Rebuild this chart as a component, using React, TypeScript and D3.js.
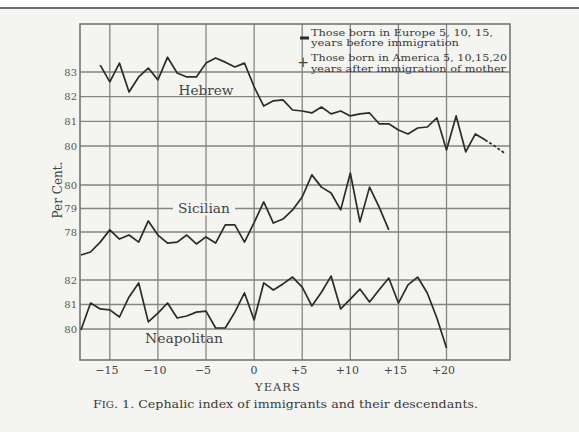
import React from "react";
import * as d3 from "d3";

// Years from immigration of the mother (negative = born in Europe before)
const hebrewYears = [
  -16, -15, -14, -13, -12, -11, -10, -9, -8, -7, -6, -5, -4, -3, -2, -1, 0, 1,
  2, 3, 4, 5, 6, 7, 8, 9, 10, 11, 12, 13, 14, 15, 16, 17, 18, 19, 20, 21, 22,
  23, 24, 25, 26,
];
const hebrewValues = [
  83.28, 82.6, 83.36, 82.19, 82.8, 83.16, 82.68, 83.6, 82.96, 82.8, 82.8,
  83.36, 83.57, 83.4, 83.2, 83.36, 82.4, 81.62, 81.83, 81.87, 81.46, 81.42,
  81.34, 81.58, 81.3, 81.42, 81.22, 81.3, 81.34, 80.9, 80.9, 80.65, 80.49,
  80.73, 80.77, 81.14, 79.84, 81.22, 79.76, 80.49, 80.25, 80.0, 79.72,
];
// last stretch of the Hebrew curve is printed dotted
const hebrewDottedFrom = 24;

const sicilianYears = [
  -18, -17, -16, -15, -14, -13, -12, -11, -10, -9, -8, -7, -6, -5, -4, -3, -2,
  -1, 0, 1, 2, 3, 4, 5, 6, 7, 8, 9, 10, 11, 12, 13, 14,
];
const sicilianValues = [
  77.02, 77.15, 77.57, 78.09, 77.7, 77.87, 77.57, 78.47, 77.87, 77.53, 77.57,
  77.87, 77.49, 77.79, 77.53, 78.3, 78.3, 77.57, 78.4, 79.28, 78.38, 78.55,
  78.94, 79.49, 80.43, 79.91, 79.66, 78.94, 80.51, 78.43, 79.91, 79.06, 78.09,
];

const neapolitanYears = [
  -18, -17, -16, -15, -14, -13, -12, -11, -10, -9, -8, -7, -6, -5, -4, -3, -2,
  -1, 0, 1, 2, 3, 4, 5, 6, 7, 8, 9, 10, 11, 12, 13, 14, 15, 16, 17, 18, 19, 20,
];
const neapolitanValues = [
  79.96, 81.06, 80.82, 80.78, 80.49, 81.31, 81.88, 80.29, 80.65, 81.06, 80.45,
  80.53, 80.69, 80.73, 80.04, 80.04, 80.69, 81.47, 80.37, 81.88, 81.59, 81.84,
  82.12, 81.71, 80.94, 81.5, 82.16, 80.82, 81.22, 81.63, 81.1, 81.6, 82.08,
  81.06, 81.8, 82.12, 81.47, 80.45, 79.22,
];

const xTicks = [-15, -10, -5, 0, 5, 10, 15, 20];
const xTickLabels = ["\u221215", "\u221210", "\u22125", "0", "+5", "+10", "+15", "+20"];
const hebrewTicks = [83, 82, 81, 80];
const sicilianTicks = [80, 79, 78];
const neapolitanTicks = [82, 81, 80];

const legendLines = [
  "Those born in Europe 5, 10, 15,",
  "years before immigration",
  "Those born in America 5, 10,15,20",
  "years after immigration of mother",
];

const W = 579;
const H = 432;
const bg = "#f4f4f1";
const ink = "#2b2b2b";
const gridColor = "#858585";
const serif = "'DejaVu Serif', 'Liberation Serif', serif";

const left = 80;
const right = 510;
const top = 24;
const bottom = 360;

const x = d3.scaleLinear().domain([-18.1, 26.6]).range([left, right]);

// each race gets its own vertical scale, stacked in the one frame
const yHeb = d3.scaleLinear().domain([80, 83]).range([146, 72]);
const ySic = d3.scaleLinear().domain([78, 80]).range([232, 185]);
const yNea = d3.scaleLinear().domain([80, 82]).range([329, 280]);

type Pt = [number, number];

const App = () => {
  const zip = (years: number[], vals: number[]): Pt[] =>
    years.map((yr, i) => [yr, vals[i]] as Pt);

  const heb = zip(hebrewYears, hebrewValues);
  const hebSolid = heb.filter((d) => d[0] <= hebrewDottedFrom);
  const hebDotted = heb.filter((d) => d[0] >= hebrewDottedFrom);
  const sic = zip(sicilianYears, sicilianValues);
  const nea = zip(neapolitanYears, neapolitanValues);

  const lineFor = (y: d3.ScaleLinear<number, number>) =>
    d3
      .line<Pt>()
      .x((d) => x(d[0]))
      .y((d) => y(d[1]));

  const panels = [
    { ticks: hebrewTicks, y: yHeb },
    { ticks: sicilianTicks, y: ySic },
    { ticks: neapolitanTicks, y: yNea },
  ];

  const sicLabelY = ySic(79);

  return (
    <svg
      width={W}
      height={H}
      style={{ position: "absolute", left: 0, top: 0 }}
      fontFamily={serif}
    >
      <rect x={0} y={0} width={W} height={H} fill={bg} />
      <rect x={0} y={0} width={W} height={7} fill="#fbfbfb" />
      <line x1={0} x2={W} y1={8} y2={8} stroke="#6d6d6d" strokeWidth={2} />

      {/* horizontal grid + y labels */}
      {panels.map((p, pi) =>
        p.ticks.map((t) => (
          <g key={`${pi}-${t}`}>
            <line
              x1={left}
              x2={right}
              y1={p.y(t)}
              y2={p.y(t)}
              stroke={gridColor}
              strokeWidth={1.3}
            />
            <text
              x={left - 3}
              y={p.y(t) + 3.5}
              textAnchor="end"
              fontSize={10}
              fill="#555"
            >
              {t}
            </text>
          </g>
        ))
      )}

      {/* vertical grid */}
      {xTicks.map((t) => (
        <line
          key={t}
          x1={x(t)}
          x2={x(t)}
          y1={top}
          y2={bottom}
          stroke={gridColor}
          strokeWidth={1.3}
        />
      ))}

      {/* frame */}
      <rect
        x={left}
        y={top}
        width={right - left}
        height={bottom - top}
        fill="none"
        stroke="#6e6e6e"
        strokeWidth={1.5}
      />

      {/* Sicilian label sits on the 79 line, with the line broken round it */}
      <rect x={173} y={sicLabelY - 7} width={62} height={14} fill={bg} />

      {/* series */}
      <path d={lineFor(yHeb)(hebSolid) ?? ""} fill="none" stroke={ink} strokeWidth={1.7} strokeLinejoin="round" />
      <path d={lineFor(yHeb)(hebDotted) ?? ""} fill="none" stroke={ink} strokeWidth={1.7} strokeDasharray="3,2" />
      <path d={lineFor(ySic)(sic) ?? ""} fill="none" stroke={ink} strokeWidth={1.7} strokeLinejoin="round" />
      <path d={lineFor(yNea)(nea) ?? ""} fill="none" stroke={ink} strokeWidth={1.7} strokeLinejoin="round" />

      {/* series names */}
      <text x={206} y={95} textAnchor="middle" fontSize={12.5} fill="#444" textLength={55} lengthAdjust="spacingAndGlyphs">
        Hebrew
      </text>
      <text x={204} y={sicLabelY + 4.5} textAnchor="middle" fontSize={12.5} fill="#444" textLength={52} lengthAdjust="spacingAndGlyphs">
        Sicilian
      </text>
      <text x={184} y={343} textAnchor="middle" fontSize={12.5} fill="#444" textLength={78} lengthAdjust="spacingAndGlyphs">
        Neapolitan
      </text>

      {/* legend */}
      <rect x={300} y={36.5} width={9} height={3} fill={ink} />
      <text x={303} y={67} textAnchor="middle" fontSize={14} fill="#444">
        +
      </text>
      {legendLines.map((s, i) => (
        <text
          key={i}
          x={311}
          y={[36, 46, 61, 72][i]}
          fontSize={9.5}
          fill="#3a3a3a"
          textLength={[182, 148, 196, 195][i]}
          lengthAdjust="spacingAndGlyphs"
        >
          {s}
        </text>
      ))}

      {/* x tick labels */}
      {xTicks.map((t, i) => (
        <text
          key={t}
          x={x(t) + (t === 0 ? 0 : -3)}
          y={374}
          textAnchor="middle"
          fontSize={11}
          fill="#444"
        >
          {xTickLabels[i]}
        </text>
      ))}
      <text x={278} y={391} textAnchor="middle" fontSize={11.5} fill="#444" letterSpacing={1}>
        YEARS
      </text>

      {/* y axis title */}
      <text
        transform="translate(62,190) rotate(-90)"
        textAnchor="middle"
        fontSize={12}
        fill="#444"
      >
        Per Cent.
      </text>

      {/* caption */}
      <text x={93} y={408} fontSize={10.5} fill="#3a3a3a" textLength={385} lengthAdjust="spacingAndGlyphs">
        F<tspan fontSize={8.5}>IG</tspan>. 1.  Cephalic index of immigrants and their descendants.
      </text>
    </svg>
  );
};

export default App;
